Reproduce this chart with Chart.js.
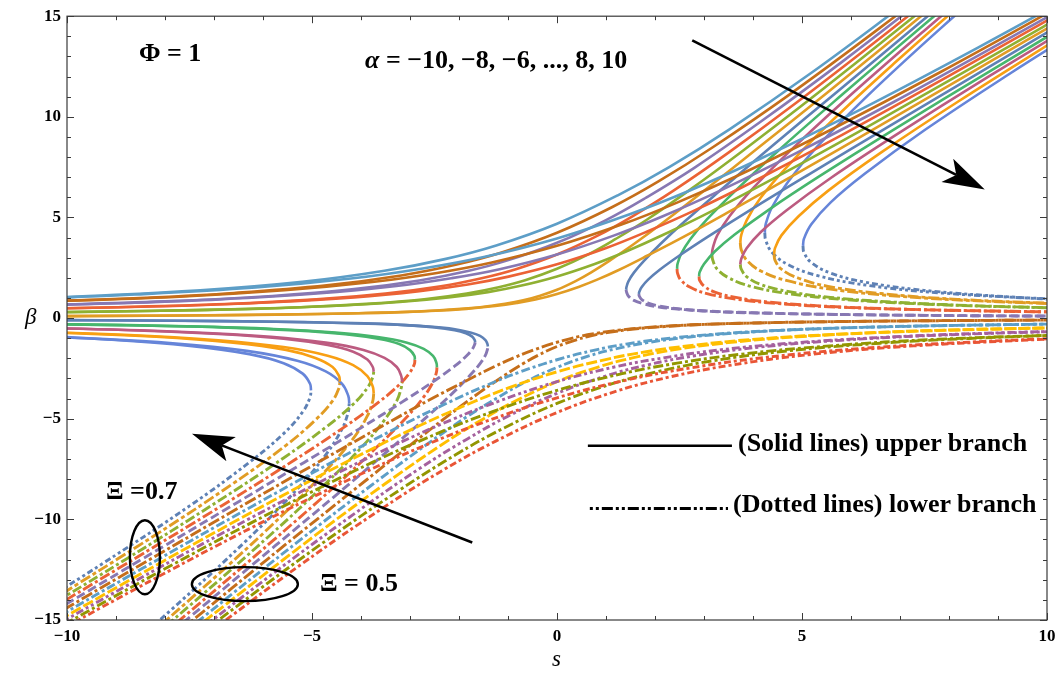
<!DOCTYPE html>
<html>
<head>
<meta charset="utf-8">
<script src="https://cdn.jsdelivr.net/npm/chart.js@4.4.0/dist/chart.umd.min.js"></script>
<style>
  html, body { margin: 0; padding: 0; background: #fff; }
  #wrap { position: relative; width: 1063px; height: 677px; }
  #plot { position: absolute; left: 0; top: 0; }
  .note { position: absolute; font-family: 'Liberation Serif', 'Times New Roman', serif; font-weight: bold; font-size: 26px; line-height: 1; white-space: nowrap; color: #000; }
  .axis { position: absolute; font-family: 'Liberation Serif', 'Times New Roman', serif; font-style: italic; font-size: 23px; line-height: 1; color: #000; }
</style>
</head>
<body>
<div id="wrap">
  <canvas id="plot" width="1063" height="677"></canvas>
  <div class="note" style="left:139px; top:40px;">Φ = 1</div>
  <div class="note" style="left:365px; top:47px;"><i>α</i> = −10, −8, −6, ..., 8, 10</div>
  <div class="note" style="left:106px; top:478px;">Ξ =0.7</div>
  <div class="note" style="left:320px; top:570px;">Ξ = 0.5</div>
  <div class="note" style="left:738px; top:430px;">(Solid lines) upper branch</div>
  <div class="note" style="left:733px; top:491px;">(Dotted lines) lower branch</div>
  <div class="axis" style="left:552px; top:647px;">s</div>
  <div class="axis" style="left:25px; top:305px;">β</div>
</div>
<script>
// α values of the two families, Ξ = 0.5 and Ξ = 0.7
var alphaValues = [-10, -8, -6, -4, -2, 0, 2, 4, 6, 8, 10];

// colours per α (index follows alphaValues)
var upperColors = ['#5D9EC7', '#C56E1A', '#8778B3', '#EB6235', '#8FB032', '#E19C24', '#5E81B5', '#47B66D', '#BC5B80', '#F89F13', '#6685D9'];
var lowerColors = ['#E95536', '#929600', '#A5609D', '#FFBF00', '#5D9EC7', '#C56E1A', '#8778B3', '#EB6235', '#8FB032', '#E19C24', '#5E81B5'];
var lowerDashes = [[7,3,3,3], [10,3,3,3], [8,3,3,3,3,3], [11,3], [9,3,3,3], [12,3,3,3], [9,4], [11,3,3,3], [10,3,3,3], [11,3,4,3], [6,3,3,3,3,3]];

// [s, beta] points; every alpha has one piece, or two when the curve turns back
var upperXi05 = [
  [[[-10.03,1.04],[-7.28,1.38],[-5.2,1.8],[-3.52,2.35],[-2.29,2.93],[-1.24,3.61],[0,4.69],[1.24,6.1],[2.29,7.5],[3.52,9.38],[5.2,12.2],[7.28,15.95]]],
  [[[-10.18,0.85],[-8.4,1.01],[-6.59,1.25],[-4.7,1.63],[-3.18,2.12],[-2.07,2.65],[-1.13,3.26],[0,4.24],[1.13,5.52],[2.07,6.79],[3.18,8.49],[4.7,11.03],[6.59,14.42],[8.4,17.82]]],
  [[[-10.91,0.62],[-8,0.83],[-5.81,1.1],[-4.14,1.44],[-2.81,1.87],[-1.82,2.34],[-0.99,2.88],[0,3.74],[0.99,4.86],[1.82,5.99],[2.81,7.48],[4.14,9.73],[5.81,12.72],[8,16.84]]],
  [[[-10.84,0.45],[-9.22,0.53],[-6.76,0.7],[-4.91,0.93],[-3.5,1.22],[-2.37,1.58],[-1.54,1.98],[-0.84,2.43],[0,3.16],[0.84,4.11],[1.54,5.06],[2.37,6.32],[3.5,8.22],[4.91,10.75],[6.76,14.23],[9.22,18.97]]],
  [[[-10.89,0.27],[-9.64,0.31],[-7.14,0.41],[-5.24,0.54],[-3.8,0.72],[-2.71,0.94],[-1.84,1.22],[-1.19,1.53],[-0.65,1.88],[0,2.45],[0.65,3.18],[1.19,3.92],[1.84,4.9],[2.71,6.37],[3.8,8.33],[5.24,11.02],[7.14,14.7],[9.64,19.6]]],
  [[[-10.56,0.09],[-7.71,0.13],[-5.57,0.18],[-4.12,0.24],[-3.02,0.31],[-2.2,0.42],[-1.57,0.54],[-1.06,0.71],[-0.69,0.88],[-0.38,1.09],[0,1.41],[0.38,1.84],[0.69,2.26],[1.06,2.83],[1.57,3.68],[2.2,4.81],[3.02,6.36],[4.12,8.49],[5.57,11.31],[7.71,15.56]]],
  [[[-10.65,-0.09],[-7.84,-0.13],[-5.75,-0.18],[-4.36,-0.24],[-3.34,-0.31],[-2.61,-0.42],[-2.11,-0.54],[-1.77,-0.71],[-1.57,-0.88],[-1.46,-1.09],[-1.42,-1.29],[-1.41,-1.41]],
   [[1.41,1.41],[1.42,1.56],[1.46,1.84],[1.57,2.26],[1.77,2.83],[2.11,3.68],[2.61,4.81],[3.34,6.36],[4.36,8.49],[5.75,11.31],[7.84,15.56]]],
  [[[-13.58,-0.22],[-9.95,-0.31],[-7.55,-0.41],[-5.78,-0.54],[-4.52,-0.72],[-3.66,-0.94],[-3.06,-1.22],[-2.72,-1.53],[-2.53,-1.88],[-2.46,-2.23],[-2.45,-2.45]],
   [[2.45,2.45],[2.46,2.69],[2.53,3.18],[2.72,3.92],[3.06,4.9],[3.66,6.37],[4.52,8.33],[5.78,11.02],[7.55,14.7],[9.95,19.6]]],
  [[[-12.85,-0.4],[-9.75,-0.53],[-7.47,-0.7],[-5.84,-0.93],[-4.72,-1.22],[-3.95,-1.58],[-3.52,-1.98],[-3.27,-2.43],[-3.18,-2.87],[-3.16,-3.16]],
   [[3.16,3.16],[3.18,3.48],[3.27,4.11],[3.52,5.06],[3.95,6.32],[4.72,8.22],[5.84,10.75],[7.47,14.23],[9.75,18.97]]],
  [[[-11.54,-0.62],[-8.83,-0.83],[-6.91,-1.1],[-5.58,-1.44],[-4.68,-1.87],[-4.16,-2.34],[-3.87,-2.88],[-3.76,-3.4],[-3.74,-3.74]],
   [[3.74,3.74],[3.76,4.12],[3.87,4.86],[4.16,5.99],[4.68,7.48],[5.58,9.73],[6.91,12.72],[8.83,16.84]]],
  [[[-10.02,-0.94],[-7.84,-1.25],[-6.33,-1.63],[-5.3,-2.12],[-4.72,-2.65],[-4.39,-3.26],[-4.26,-3.86],[-4.24,-4.24]],
   [[4.24,4.24],[4.26,4.67],[4.39,5.52],[4.72,6.79],[5.3,8.49],[6.33,11.03],[7.84,14.42],[10.02,19.09]]]
];

var lowerXi05 = [
  [[[-7.28,-15.95],[-5.2,-12.2],[-3.52,-9.38],[-2.29,-7.5],[-1.24,-6.1],[0,-4.69],[1.24,-3.61],[2.29,-2.93],[3.52,-2.35],[5.2,-1.8],[7.28,-1.38],[10.03,-1.04]]],
  [[[-8.4,-17.82],[-6.59,-14.42],[-4.7,-11.03],[-3.18,-8.49],[-2.07,-6.79],[-1.13,-5.52],[0,-4.24],[1.13,-3.26],[2.07,-2.65],[3.18,-2.12],[4.7,-1.63],[6.59,-1.25],[8.4,-1.01],[10.18,-0.85]]],
  [[[-8,-16.84],[-5.81,-12.72],[-4.14,-9.73],[-2.81,-7.48],[-1.82,-5.99],[-0.99,-4.86],[0,-3.74],[0.99,-2.88],[1.82,-2.34],[2.81,-1.87],[4.14,-1.44],[5.81,-1.1],[8,-0.83],[10.91,-0.62]]],
  [[[-9.22,-18.97],[-6.76,-14.23],[-4.91,-10.75],[-3.5,-8.22],[-2.37,-6.32],[-1.54,-5.06],[-0.84,-4.11],[0,-3.16],[0.84,-2.43],[1.54,-1.98],[2.37,-1.58],[3.5,-1.22],[4.91,-0.93],[6.76,-0.7],[9.22,-0.53],[10.84,-0.45]]],
  [[[-9.64,-19.6],[-7.14,-14.7],[-5.24,-11.02],[-3.8,-8.33],[-2.71,-6.37],[-1.84,-4.9],[-1.19,-3.92],[-0.65,-3.18],[0,-2.45],[0.65,-1.88],[1.19,-1.53],[1.84,-1.22],[2.71,-0.94],[3.8,-0.72],[5.24,-0.54],[7.14,-0.41],[9.64,-0.31],[10.89,-0.27]]],
  [[[-7.71,-15.56],[-5.57,-11.31],[-4.12,-8.49],[-3.02,-6.36],[-2.2,-4.81],[-1.57,-3.68],[-1.06,-2.83],[-0.69,-2.26],[-0.38,-1.84],[0,-1.41],[0.38,-1.09],[0.69,-0.88],[1.06,-0.71],[1.57,-0.54],[2.2,-0.42],[3.02,-0.31],[4.12,-0.24],[5.57,-0.18],[7.71,-0.13],[10.56,-0.09]]],
  [[[-7.84,-15.56],[-5.75,-11.31],[-4.36,-8.49],[-3.34,-6.36],[-2.61,-4.81],[-2.11,-3.68],[-1.77,-2.83],[-1.57,-2.26],[-1.46,-1.84],[-1.42,-1.56],[-1.41,-1.41]],
   [[1.41,1.41],[1.42,1.29],[1.46,1.09],[1.57,0.88],[1.77,0.71],[2.11,0.54],[2.61,0.42],[3.34,0.31],[4.36,0.24],[5.75,0.18],[7.84,0.13],[10.65,0.09]]],
  [[[-9.95,-19.6],[-7.55,-14.7],[-5.78,-11.02],[-4.52,-8.33],[-3.66,-6.37],[-3.06,-4.9],[-2.72,-3.92],[-2.53,-3.18],[-2.46,-2.69],[-2.45,-2.45]],
   [[2.45,2.45],[2.46,2.23],[2.53,1.88],[2.72,1.53],[3.06,1.22],[3.66,0.94],[4.52,0.72],[5.78,0.54],[7.55,0.41],[9.95,0.31],[13.58,0.22]]],
  [[[-9.75,-18.97],[-7.47,-14.23],[-5.84,-10.75],[-4.72,-8.22],[-3.95,-6.32],[-3.52,-5.06],[-3.27,-4.11],[-3.18,-3.48],[-3.16,-3.16]],
   [[3.16,3.16],[3.18,2.87],[3.27,2.43],[3.52,1.98],[3.95,1.58],[4.72,1.22],[5.84,0.93],[7.47,0.7],[9.75,0.53],[12.85,0.4]]],
  [[[-8.83,-16.84],[-6.91,-12.72],[-5.58,-9.73],[-4.68,-7.48],[-4.16,-5.99],[-3.87,-4.86],[-3.76,-4.12],[-3.74,-3.74]],
   [[3.74,3.74],[3.76,3.4],[3.87,2.88],[4.16,2.34],[4.68,1.87],[5.58,1.44],[6.91,1.1],[8.83,0.83],[11.54,0.62]]],
  [[[-10.02,-19.09],[-7.84,-14.42],[-6.33,-11.03],[-5.3,-8.49],[-4.72,-6.79],[-4.39,-5.52],[-4.26,-4.67],[-4.24,-4.24]],
   [[4.24,4.24],[4.26,3.86],[4.39,3.26],[4.72,2.65],[5.3,2.12],[6.33,1.63],[7.84,1.25],[10.02,0.94]]]
];

var upperXi07 = [
  [[[-10.99,0.94],[-8.62,1.17],[-6.15,1.52],[-4.16,1.98],[-2.71,2.48],[-1.47,3.05],[0,3.96],[1.47,5.15],[2.71,6.34],[4.16,7.93],[6.15,10.31],[8.62,13.48],[10.99,16.65]]],
  [[[-10.74,0.8],[-7.8,1.05],[-5.56,1.38],[-3.77,1.79],[-2.45,2.24],[-1.33,2.76],[0,3.59],[1.33,4.66],[2.45,5.74],[3.77,7.17],[5.56,9.32],[7.8,12.19],[10.74,16.14]]],
  [[[-10.63,0.63],[-8.77,0.75],[-6.88,0.93],[-4.9,1.22],[-3.32,1.58],[-2.16,1.98],[-1.17,2.43],[0,3.16],[1.17,4.11],[2.16,5.06],[3.32,6.32],[4.9,8.22],[6.88,10.75],[8.77,13.28],[10.63,15.81]]],
  [[[-10.91,0.45],[-8,0.59],[-5.81,0.79],[-4.14,1.03],[-2.81,1.34],[-1.82,1.67],[-0.99,2.06],[0,2.67],[0.99,3.47],[1.82,4.28],[2.81,5.35],[4.14,6.95],[5.81,9.09],[8,12.03],[10.91,16.04]]],
  [[[-11.41,0.26],[-8.45,0.35],[-6.2,0.46],[-4.5,0.61],[-3.21,0.8],[-2.17,1.04],[-1.41,1.29],[-0.77,1.59],[0,2.07],[0.77,2.69],[1.41,3.31],[2.17,4.14],[3.21,5.38],[4.5,7.04],[6.2,9.32],[8.45,12.42],[11.41,16.56]]],
  [[[-10.81,0.09],[-8.28,0.12],[-6.59,0.15],[-4.88,0.2],[-3.58,0.27],[-2.6,0.35],[-1.85,0.46],[-1.26,0.6],[-0.82,0.75],[-0.44,0.92],[0,1.2],[0.44,1.55],[0.82,1.91],[1.26,2.39],[1.85,3.11],[2.6,4.06],[3.58,5.38],[4.88,7.17],[6.59,9.56],[8.28,11.95],[10.81,15.54]]],
  [[[-10.94,-0.09],[-8.45,-0.12],[-6.8,-0.15],[-5.16,-0.2],[-3.95,-0.27],[-3.09,-0.35],[-2.5,-0.46],[-2.09,-0.6],[-1.86,-0.75],[-1.73,-0.92],[-1.68,-1.09],[-1.67,-1.2]],
   [[1.67,1.2],[1.68,1.31],[1.73,1.55],[1.86,1.91],[2.09,2.39],[2.5,3.11],[3.09,4.06],[3.95,5.38],[5.16,7.17],[6.8,9.56],[8.45,11.95],[10.94,15.54]]],
  [[[-11.77,-0.26],[-8.94,-0.35],[-6.84,-0.46],[-5.35,-0.61],[-4.32,-0.8],[-3.62,-1.04],[-3.22,-1.29],[-3,-1.59],[-2.91,-1.88],[-2.9,-2.07]],
   [[2.9,2.07],[2.91,2.28],[3,2.69],[3.22,3.31],[3.62,4.14],[4.32,5.38],[5.35,7.04],[6.84,9.32],[8.94,12.42],[11.77,16.56]]],
  [[[-11.54,-0.45],[-8.83,-0.59],[-6.91,-0.79],[-5.58,-1.03],[-4.68,-1.34],[-4.16,-1.67],[-3.87,-2.06],[-3.76,-2.43],[-3.74,-2.67]],
   [[3.74,2.67],[3.76,2.94],[3.87,3.47],[4.16,4.28],[4.68,5.35],[5.58,6.95],[6.91,9.09],[8.83,12.03],[11.54,16.04]]],
  [[[-10.45,-0.7],[-8.18,-0.93],[-6.61,-1.22],[-5.53,-1.58],[-4.93,-1.98],[-4.58,-2.43],[-4.45,-2.87],[-4.43,-3.16]],
   [[4.43,3.16],[4.45,3.48],[4.58,4.11],[4.93,5.06],[5.53,6.32],[6.61,8.22],[8.18,10.75],[10.45,14.23]]],
  [[[-10.67,-0.9],[-9.27,-1.05],[-7.49,-1.38],[-6.28,-1.79],[-5.58,-2.24],[-5.19,-2.76],[-5.04,-3.26],[-5.02,-3.59]],
   [[5.02,3.59],[5.04,3.94],[5.19,4.66],[5.58,5.74],[6.28,7.17],[7.49,9.32],[9.27,12.19],[10.67,14.34]]]
];

var lowerXi07 = [
  [[[-10.99,-16.65],[-8.62,-13.48],[-6.15,-10.31],[-4.16,-7.93],[-2.71,-6.34],[-1.47,-5.15],[0,-3.96],[1.47,-3.05],[2.71,-2.48],[4.16,-1.98],[6.15,-1.52],[8.62,-1.17],[10.99,-0.94]]],
  [[[-10.74,-16.14],[-7.8,-12.19],[-5.56,-9.32],[-3.77,-7.17],[-2.45,-5.74],[-1.33,-4.66],[0,-3.59],[1.33,-2.76],[2.45,-2.24],[3.77,-1.79],[5.56,-1.38],[7.8,-1.05],[10.74,-0.8]]],
  [[[-10.63,-15.81],[-8.77,-13.28],[-6.88,-10.75],[-4.9,-8.22],[-3.32,-6.32],[-2.16,-5.06],[-1.17,-4.11],[0,-3.16],[1.17,-2.43],[2.16,-1.98],[3.32,-1.58],[4.9,-1.22],[6.88,-0.93],[8.77,-0.75],[10.63,-0.63]]],
  [[[-10.91,-16.04],[-8,-12.03],[-5.81,-9.09],[-4.14,-6.95],[-2.81,-5.35],[-1.82,-4.28],[-0.99,-3.47],[0,-2.67],[0.99,-2.06],[1.82,-1.67],[2.81,-1.34],[4.14,-1.03],[5.81,-0.79],[8,-0.59],[10.91,-0.45]]],
  [[[-11.41,-16.56],[-8.45,-12.42],[-6.2,-9.32],[-4.5,-7.04],[-3.21,-5.38],[-2.17,-4.14],[-1.41,-3.31],[-0.77,-2.69],[0,-2.07],[0.77,-1.59],[1.41,-1.29],[2.17,-1.04],[3.21,-0.8],[4.5,-0.61],[6.2,-0.46],[8.45,-0.35],[11.41,-0.26]]],
  [[[-10.81,-15.54],[-8.28,-11.95],[-6.59,-9.56],[-4.88,-7.17],[-3.58,-5.38],[-2.6,-4.06],[-1.85,-3.11],[-1.26,-2.39],[-0.82,-1.91],[-0.44,-1.55],[0,-1.2],[0.44,-0.92],[0.82,-0.75],[1.26,-0.6],[1.85,-0.46],[2.6,-0.35],[3.58,-0.27],[4.88,-0.2],[6.59,-0.15],[8.28,-0.12],[10.81,-0.09]]],
  [[[-10.94,-15.54],[-8.45,-11.95],[-6.8,-9.56],[-5.16,-7.17],[-3.95,-5.38],[-3.09,-4.06],[-2.5,-3.11],[-2.09,-2.39],[-1.86,-1.91],[-1.73,-1.55],[-1.68,-1.31],[-1.67,-1.2]],
   [[1.67,1.2],[1.68,1.09],[1.73,0.92],[1.86,0.75],[2.09,0.6],[2.5,0.46],[3.09,0.35],[3.95,0.27],[5.16,0.2],[6.8,0.15],[8.45,0.12],[10.94,0.09]]],
  [[[-11.77,-16.56],[-8.94,-12.42],[-6.84,-9.32],[-5.35,-7.04],[-4.32,-5.38],[-3.62,-4.14],[-3.22,-3.31],[-3,-2.69],[-2.91,-2.28],[-2.9,-2.07]],
   [[2.9,2.07],[2.91,1.88],[3,1.59],[3.22,1.29],[3.62,1.04],[4.32,0.8],[5.35,0.61],[6.84,0.46],[8.94,0.35],[11.77,0.26]]],
  [[[-11.54,-16.04],[-8.83,-12.03],[-6.91,-9.09],[-5.58,-6.95],[-4.68,-5.35],[-4.16,-4.28],[-3.87,-3.47],[-3.76,-2.94],[-3.74,-2.67]],
   [[3.74,2.67],[3.76,2.43],[3.87,2.06],[4.16,1.67],[4.68,1.34],[5.58,1.03],[6.91,0.79],[8.83,0.59],[11.54,0.45]]],
  [[[-10.45,-14.23],[-8.18,-10.75],[-6.61,-8.22],[-5.53,-6.32],[-4.93,-5.06],[-4.58,-4.11],[-4.45,-3.48],[-4.43,-3.16]],
   [[4.43,3.16],[4.45,2.87],[4.58,2.43],[4.93,1.98],[5.53,1.58],[6.61,1.22],[8.18,0.93],[10.45,0.7]]],
  [[[-10.67,-14.34],[-9.27,-12.19],[-7.49,-9.32],[-6.28,-7.17],[-5.58,-5.74],[-5.19,-4.66],[-5.04,-3.94],[-5.02,-3.59]],
   [[5.02,3.59],[5.04,3.26],[5.19,2.76],[5.58,2.24],[6.28,1.79],[7.49,1.38],[9.27,1.05],[10.67,0.9]]]
];

var datasets = [];

function addBranch(list, dashed) {
  list.forEach(function(pieces, i) {
    pieces.forEach(function(piece) {
      datasets.push({
        label: 'alpha ' + alphaValues[i],
        data: piece.map(function(p) { return {x: p[0], y: p[1]}; }),
        showLine: true,
        borderColor: dashed ? lowerColors[i] : upperColors[i],
        borderWidth: dashed ? 2.9 : 2.6,
        borderDash: dashed ? lowerDashes[i] : [],
        pointRadius: 0,
        tension: 0.4,
        clip: 0
      });
    });
  });
}

addBranch(upperXi07, false);
addBranch(upperXi05, false);
addBranch(lowerXi07, true);
addBranch(lowerXi05, true);

function minusSign(v) {
  return v < 0 ? '\u2212' + Math.abs(v) : String(v);
}

function drawArrow(ctx, x0, y0, x1, y1) {
  var ang = Math.atan2(y1 - y0, x1 - x0);
  var c = Math.cos(ang), s = Math.sin(ang);
  var len = 42, half = 13, notch = 32;
  var bx = x1 - len * c, by = y1 - len * s;
  var nx = x1 - notch * c, ny = y1 - notch * s;
  ctx.beginPath();
  ctx.moveTo(x0, y0);
  ctx.lineTo(nx, ny);
  ctx.stroke();
  ctx.beginPath();
  ctx.moveTo(x1, y1);
  ctx.lineTo(bx - half * s, by + half * c);
  ctx.lineTo(nx, ny);
  ctx.lineTo(bx + half * s, by - half * c);
  ctx.closePath();
  ctx.fill();
}

// arrows, ellipses and the branch key
var marks = {
  id: 'marks',
  afterDatasetsDraw: function(chart) {
    var ctx = chart.ctx, x = chart.scales.x, y = chart.scales.y;
    ctx.save();
    ctx.strokeStyle = '#000';
    ctx.fillStyle = '#000';
    ctx.lineWidth = 2.6;
    drawArrow(ctx, x.getPixelForValue(2.76), y.getPixelForValue(13.8), x.getPixelForValue(8.73), y.getPixelForValue(6.39));
    drawArrow(ctx, x.getPixelForValue(-1.73), y.getPixelForValue(-11.15), x.getPixelForValue(-7.45), y.getPixelForValue(-5.75));

    ctx.lineWidth = 2.4;
    ctx.beginPath();
    ctx.ellipse(x.getPixelForValue(-8.41), y.getPixelForValue(-11.88), 15, 37, 0, 0, Math.PI * 2);
    ctx.stroke();
    ctx.beginPath();
    ctx.ellipse(x.getPixelForValue(-6.37), y.getPixelForValue(-13.22), 53, 17, 0, 0, Math.PI * 2);
    ctx.stroke();

    ctx.lineWidth = 2.6;
    ctx.beginPath();
    ctx.moveTo(x.getPixelForValue(0.63), y.getPixelForValue(-6.34));
    ctx.lineTo(x.getPixelForValue(3.57), y.getPixelForValue(-6.34));
    ctx.stroke();
    ctx.lineWidth = 2.8;
    ctx.setLineDash([3, 3, 3, 3, 11, 3]);
    ctx.beginPath();
    ctx.moveTo(x.getPixelForValue(0.67), y.getPixelForValue(-9.46));
    ctx.lineTo(x.getPixelForValue(3.49), y.getPixelForValue(-9.46));
    ctx.stroke();
    ctx.restore();
  }
};

// frame with inward ticks on all four sides
var frame = {
  id: 'frame',
  afterDraw: function(chart) {
    var ctx = chart.ctx, a = chart.chartArea, x = chart.scales.x, y = chart.scales.y;
    ctx.save();
    ctx.strokeStyle = '#3a3a3a';
    ctx.lineWidth = 1.2;
    ctx.strokeRect(a.left, a.top, a.right - a.left, a.bottom - a.top);
    ctx.lineWidth = 1;
    ctx.beginPath();
    for (var s = -10; s <= 10; s++) {
      var px = Math.round(x.getPixelForValue(s)) + 0.5;
      var len = s % 5 === 0 ? 7 : 4;
      ctx.moveTo(px, a.bottom); ctx.lineTo(px, a.bottom - len);
      ctx.moveTo(px, a.top); ctx.lineTo(px, a.top + len);
    }
    for (var b = -15; b <= 15; b++) {
      var py = Math.round(y.getPixelForValue(b)) + 0.5;
      var l2 = b % 5 === 0 ? 7 : 4;
      ctx.moveTo(a.left, py); ctx.lineTo(a.left + l2, py);
      ctx.moveTo(a.right, py); ctx.lineTo(a.right - l2, py);
    }
    ctx.stroke();
    ctx.restore();
  }
};

var tickFont = { family: "'Liberation Serif', 'Times New Roman', serif", size: 17, weight: 'bold' };

new Chart(document.getElementById('plot').getContext('2d'), {
  type: 'scatter',
  data: { datasets: datasets },
  options: {
    responsive: false,
    devicePixelRatio: 1,
    animation: false,
    events: [],
    layout: { padding: { top: 14, right: 16, left: 0, bottom: 0 } },
    elements: { line: { capBezierPoints: false } },
    plugins: { legend: { display: false }, tooltip: { enabled: false } },
    scales: {
      x: {
        type: 'linear', min: -10, max: 10,
        grid: { display: false, drawTicks: false },
        border: { display: false },
        ticks: { stepSize: 5, padding: 6, color: '#000', font: tickFont, callback: minusSign },
        afterFit: function(scale) { scale.height = 57; }
      },
      y: {
        type: 'linear', min: -15, max: 15,
        grid: { display: false, drawTicks: false },
        border: { display: false },
        ticks: { stepSize: 5, padding: 6, color: '#000', font: tickFont, callback: minusSign },
        afterFit: function(scale) { scale.width = 67; }
      }
    }
  },
  plugins: [marks, frame]
});
</script>
</body>
</html>
